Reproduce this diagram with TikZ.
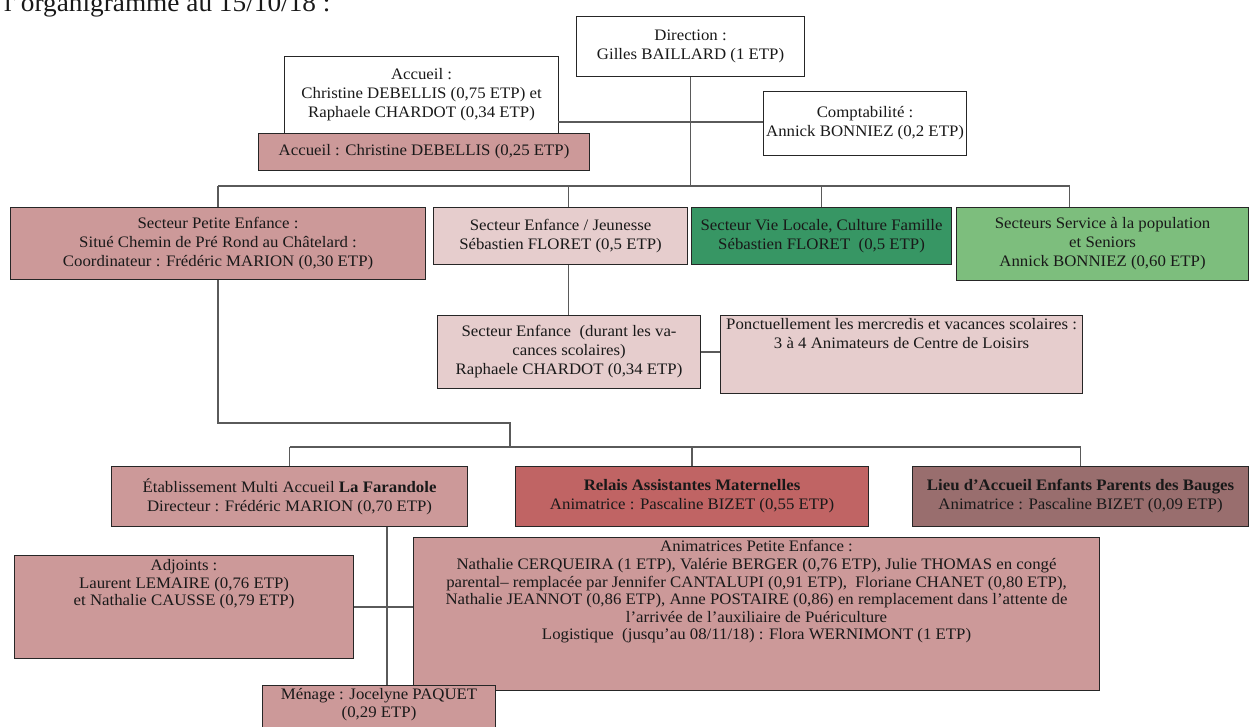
\documentclass[tikz,border=0pt]{standalone}
\usepackage{fontspec}
\setmainfont{Liberation Serif}[FakeStretch=1.05]
\definecolor{pinkA}{RGB}{204,153,153}
\definecolor{pinkL}{RGB}{230,205,205}
\definecolor{redR}{RGB}{192,100,100}
\definecolor{mauve}{RGB}{153,110,110}
\definecolor{greenD}{RGB}{55,150,100}
\definecolor{greenL}{RGB}{125,190,125}
\definecolor{lineG}{RGB}{90,90,90}
\definecolor{txt}{RGB}{25,25,25}
\tikzset{
 obox/.style={draw=black!85, line width=1.1pt, inner sep=0pt, anchor=north west, text=txt, font=\fontsize{16}{19}\selectfont},
 tight/.style={font=\fontsize{16}{17.6}\selectfont},
 conn/.style={draw=lineG, line width=1.4pt},
}
\newcommand\obox[8]{\node[obox,#6] (#1) at (#2,#3) {\parbox[c][#5pt][#7]{#4pt}{\centering #8}};}
\begin{document}
\begin{tikzpicture}[x=1pt,y=-1pt]
\fill[white] (0,0) rectangle (1251,727);
\useasboundingbox (0,0) rectangle (1251,727);
\node[anchor=base west, font=\fontsize{26}{28}\selectfont, inner sep=0pt, text=txt] (ttl) at (4,12) {l’organigramme au 15/10/18 :};
\obox{dir}{576}{16}{228}{60}{fill=white}{c}{Direction :\\Gilles BAILLARD (1 ETP)}
\obox{acc}{284}{56}{274}{77}{fill=white}{c}{Accueil :\\Christine DEBELLIS (0,75 ETP) et\\Raphaele CHARDOT (0,34 ETP)}
\obox{accp}{258}{133}{331}{37}{fill=pinkA}{c}{Accueil : Christine DEBELLIS (0,25 ETP)}
\obox{cpt}{763}{91}{203}{64}{fill=white}{c}{Comptabilité :\\Annick BONNIEZ (0,2 ETP)}
\obox{spe}{10}{207}{415}{72}{fill=pinkA}{c}{Secteur Petite Enfance :\\Situé Chemin de Pré Rond au Châtelard :\\Coordinateur : Frédéric MARION (0,30 ETP)}
\obox{sej}{433}{207}{254}{57}{fill=pinkL}{c}{Secteur Enfance / Jeunesse\\Sébastien FLORET (0,5 ETP)}
\obox{svl}{691}{207}{260}{57}{fill=greenD}{c}{Secteur Vie Locale, Culture Famille\\Sébastien FLORET~ (0,5 ETP)}
\obox{ssp}{956}{207}{292}{73}{fill=greenL}{c}{Secteurs Service à la population\\et Seniors\\Annick BONNIEZ (0,60 ETP)}
\obox{sed}{437}{315}{263}{73}{fill=pinkL}{c}{Secteur Enfance~ (durant les va-\\cances scolaires)\\Raphaele CHARDOT (0,34 ETP)}
\obox{pon}{720}{315}{362}{78}{fill=pinkL}{t}{\vspace*{3pt}Ponctuellement les mercredis et vacances scolaires :\\3 à 4 Animateurs de Centre de Loisirs}
\obox{far}{111}{466}{356}{60}{fill=pinkA}{c}{Établissement Multi Accueil \textbf{La Farandole}\\Directeur : Frédéric MARION (0,70 ETP)}
\obox{ram}{515}{466}{353}{60}{fill=redR}{c}{\textbf{Relais Assistantes Maternelles}\\Animatrice : Pascaline BIZET (0,55 ETP)}
\obox{laep}{912}{466}{336}{60}{fill=mauve}{c}{\textbf{Lieu d’Accueil Enfants Parents des Bauges}\\Animatrice : Pascaline BIZET (0,09 ETP)}
\obox{adj}{14}{555}{339}{103}{fill=pinkA,tight}{t}{\vspace*{4pt}Adjoints :\\Laurent LEMAIRE (0,76 ETP)\\et Nathalie CAUSSE (0,79 ETP)}
\obox{ani}{413}{537}{686}{153}{fill=pinkA,tight}{t}{\vspace*{3pt}Animatrices Petite Enfance :\\Nathalie CERQUEIRA (1 ETP), Valérie BERGER (0,76 ETP), Julie THOMAS en congé\\parental– remplacée par Jennifer CANTALUPI (0,91 ETP), ~Floriane CHANET (0,80 ETP),\\Nathalie JEANNOT (0,86 ETP), Anne POSTAIRE (0,86) en remplacement dans l’attente de\\l’arrivée de l’auxiliaire de Puériculture\\Logistique ~(jusqu’au 08/11/18) : Flora WERNIMONT (1 ETP)}
\obox{men}{262}{685}{233}{50}{fill=pinkA,tight}{t}{\vspace*{3pt}Ménage : Jocelyne PAQUET\\(0,29 ETP)}
% connectors
\coordinate (b1) at (692,186);
\coordinate (aj) at (558,122);
\draw[conn] (dir.south) -- (dir.south |- b1);
\draw[conn] (aj) -- (aj -| cpt.west);
\coordinate (b1L) at (spe.north |- b1);
\coordinate (b1R) at ([xshift=-33pt]ssp.north |- b1);
\draw[conn] (b1L) -- (b1R);
\draw[conn] (b1L) -- (spe.north);
\draw[conn] ([xshift=8pt]sej.north |- b1) -- ([xshift=8pt]sej.north);
\draw[conn] (svl.north |- b1) -- (svl.north);
\draw[conn] (b1R) -- (b1R |- ssp.north);
\draw[conn] ([xshift=8pt]sej.south) -- ([xshift=8pt]sej.south |- sed.north);
\draw[conn] (sed.east) -- (sed.east -| pon.west);
\coordinate (b2) at (510,447);
\draw[conn] (spe.south) -- ++(0,143) -| (b2);
\draw[conn] (far.north |- b2) -- (laep.north |- b2);
\draw[conn] (far.north |- b2) -- (far.north);
\draw[conn] (ram.north |- b2) -- (ram.north);
\draw[conn] (laep.north |- b2) -- (laep.north);
\draw[conn] ([xshift=8pt]men.north |- far.south) -- ([xshift=8pt]men.north);
\draw[conn] (adj.east) -- (adj.east -| ani.west);
\end{tikzpicture}
\end{document}
